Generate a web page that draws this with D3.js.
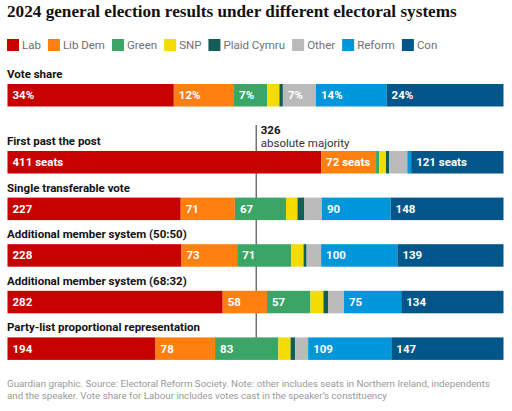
<!DOCTYPE html>
<html lang="en">
<head>
<meta charset="UTF-8">
<title>2024 general election results under different electoral systems</title>
<script src="https://d3js.org/d3.v7.min.js"></script>
<style>
    body { margin: 0; background: #fff; }
    text { font-family: Roboto, "Noto Sans", Arial, sans-serif; }
    .title { font-family: "Liberation Serif", serif; font-weight: bold; fill: #121212; }
    .legend text { fill: #707070; font-size: 11.5px; }
    .row-label { font-weight: bold; fill: #121212; font-size: 11.5px; }
    .bar-label { font-weight: bold; fill: #fff; font-size: 11.5px; }
    .note { fill: #999; }
</style>
</head>
<body>
<svg width="512" height="411"></svg>
<script>
    // parties in stacking order
    const parties = ["Lab", "Lib Dem", "Green", "SNP", "Plaid Cymru", "Other", "Reform", "Con"];
    const colours = ["#c70000", "#ff7f0f", "#3aa566", "#f5dc00", "#135e54", "#bababa", "#0096db", "#005689"];

    const rowNames = [
        "Vote share",
        "First past the post",
        "Single transferable vote",
        "Additional member system (50:50)",
        "Additional member system (68:32)",
        "Party-list proportional representation"
    ];

    // vote share (%) and seats under each system
    const voteShare = [33.7, 12.2, 6.7, 2.5, 0.7, 6.7, 14.3, 23.7];
    const fptpSeats = [411, 72, 4, 9, 4, 24, 5, 121];
    const stvSeats = [227, 71, 67, 15, 9, 23, 90, 148];
    const ams5050Seats = [228, 73, 71, 16, 4, 19, 100, 139];
    const ams6832Seats = [282, 58, 57, 17, 6, 21, 75, 134];
    const partyListSeats = [194, 78, 83, 16, 6, 17, 109, 147];

    const majority = 326;
    const totalSeats = 650;

    const rows = [voteShare, fptpSeats, stvSeats, ams5050Seats, ams6832Seats, partyListSeats];

    const svg = d3.select("svg");

    // fit a text element to a target width
    function fit(sel, size, width) {
        sel.style("font-size", size + "px");
        const w = sel.node().getComputedTextLength();
        const s = size * width / w;
        sel.style("font-size", s + "px");
        return s;
    }

    const title = svg.append("text")
        .attr("class", "title")
        .attr("x", 7)
        .attr("y", 17)
        .text("2024 general election results under different electoral systems");
    fit(title, 18, 450);

    // legend
    const legend = svg.append("g").attr("class", "legend");
    let lx = 7;
    parties.forEach((p, i) => {
        legend.append("rect")
            .attr("x", lx).attr("y", 39)
            .attr("width", 12).attr("height", 12)
            .attr("fill", colours[i]);
        const t = legend.append("text")
            .attr("x", lx + 15).attr("y", 49)
            .text(p);
        lx += 15 + t.node().getComputedTextLength() + 7;
    });

    const x = d3.scaleLinear().domain([0, totalSeats]).range([7.5, 503.5]);
    const barH = 22.5;
    const barTop = i => i === 0 ? 84 : 151 + (i - 1) * 46.6;

    // majority line sits behind the bars
    svg.append("line")
        .attr("x1", x(majority)).attr("x2", x(majority))
        .attr("y1", 125).attr("y2", barTop(5) + 4)
        .attr("stroke", "#707070")
        .attr("stroke-width", 1.5);

    svg.append("text")
        .attr("x", x(majority) + 4.5).attr("y", 134)
        .style("font-weight", "bold").style("font-size", "11.5px")
        .attr("fill", "#121212")
        .text(majority);
    svg.append("text")
        .attr("x", x(majority) + 4.5).attr("y", 147)
        .style("font-size", "11.5px")
        .attr("fill", "#333")
        .text("absolute majority");

    rows.forEach((vals, r) => {
        const total = d3.sum(vals);
        const xs = d3.scaleLinear().domain([0, total]).range(x.range());
        const cum = d3.cumsum(vals);
        const segs = vals.map((v, i) => ({ v, i, start: cum[i] - v, end: cum[i] }));
        const y0 = barTop(r);

        svg.append("text")
            .attr("class", "row-label")
            .attr("x", 7).attr("y", y0 - 6)
            .text(rowNames[r]);

        const g = svg.append("g");
        g.selectAll("rect")
            .data(segs)
            .enter().append("rect")
            .attr("x", d => xs(d.start))
            .attr("y", y0)
            .attr("width", d => xs(d.end) - xs(d.start))
            .attr("height", barH)
            .attr("fill", d => colours[d.i]);

        g.selectAll("text")
            .data(segs.filter(d => xs(d.end) - xs(d.start) > 25))
            .enter().append("text")
            .attr("class", "bar-label")
            .attr("x", d => xs(d.start) + 5)
            .attr("y", y0 + barH / 2 + 4)
            .text(d => r === 0 ? Math.round(d.v) + "%" : r === 1 ? d.v + " seats" : d.v);
    });

    // footnote
    const notes = [
        "Guardian graphic. Source: Electoral Reform Society. Note: other includes seats in Northern Ireland, independents",
        "and the speaker. Vote share for Labour includes votes cast in the speaker\u2019s constituency"
    ];
    const n1 = svg.append("text")
        .attr("class", "note")
        .attr("x", 7).attr("y", 387)
        .text(notes[0]);
    const ns = fit(n1, 10.4, 483);
    svg.append("text")
        .attr("class", "note")
        .attr("x", 7).attr("y", 398.5)
        .style("font-size", ns + "px")
        .text(notes[1]);
</script>
</body>
</html>
